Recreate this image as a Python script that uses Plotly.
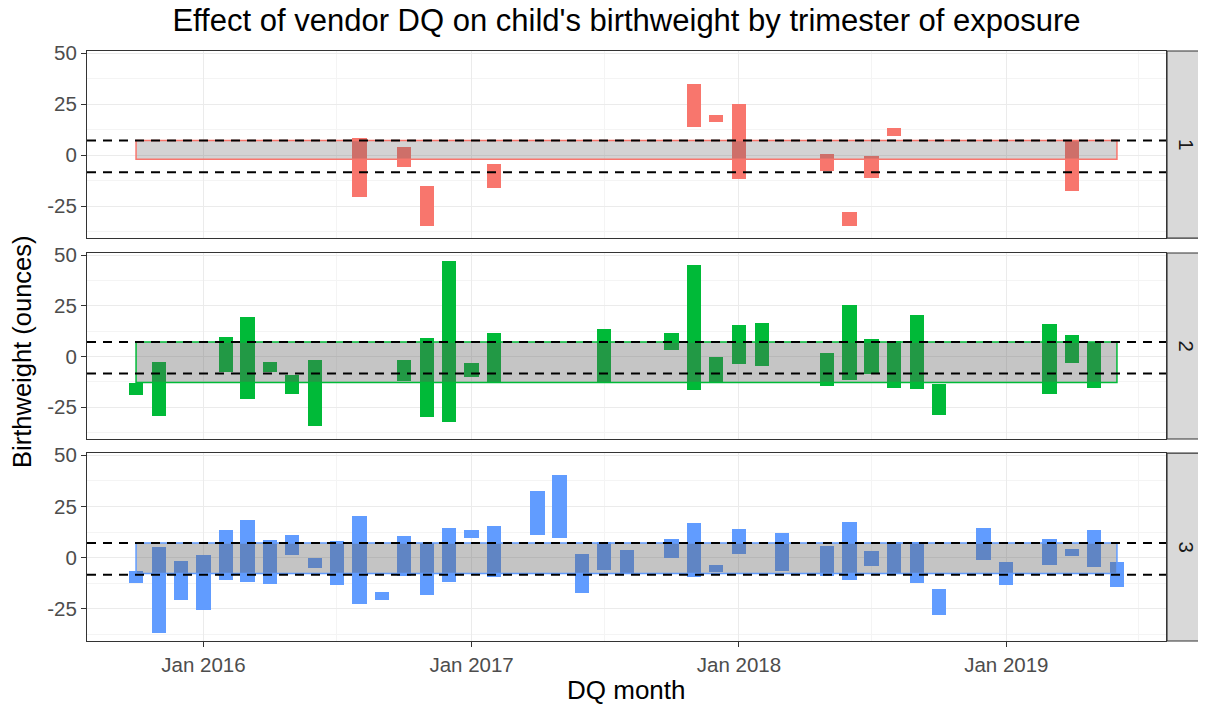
import pandas as pd
import plotly.graph_objects as go
from plotly.subplots import make_subplots

# ---------------- data ----------------
t1_month = ["2016-08", "2016-10", "2016-11", "2017-02", "2017-11", "2017-12",
            "2018-01", "2018-05", "2018-06", "2018-07", "2018-08", "2019-04"]
t1_hi = [8.2, 4.1, -15.2, -4.2, 35.1, 19.8, 25.0, 0.5, -28.1, -0.5, 13.2, 6.9]
t1_lo = [-20.4, -5.7, -34.6, -16.3, 13.6, 16.2, -11.8, -7.8, -34.6, -11.1, 9.3, -17.8]

t2_month = ["2015-10", "2015-11", "2016-02", "2016-03", "2016-04", "2016-05", "2016-06",
            "2016-10", "2016-11", "2016-12", "2017-01", "2017-02", "2017-07", "2017-10",
            "2017-11", "2017-12", "2018-01", "2018-02", "2018-05", "2018-06", "2018-07",
            "2018-08", "2018-09", "2018-10", "2019-03", "2019-04", "2019-05"]
t2_hi = [-13.1, -2.6, 9.5, 19.5, -2.6, -9.2, -1.6,
         -1.5, 9.0, 47.0, -3.0, 11.8, 13.6, 11.8,
         45.4, -0.2, 15.6, 16.6, 1.8, 25.6, 8.7,
         7.9, 20.5, -13.8, 15.9, 10.7, 7.0]
t2_lo = [-18.9, -29.2, -7.5, -21.1, -7.7, -18.7, -34.4,
         -12.3, -29.8, -32.1, -10.3, -12.8, -12.8, 3.4,
         -16.4, -12.8, -3.8, -4.8, -14.4, -11.8, -8.4,
         -15.6, -15.9, -28.7, -18.4, -3.0, -15.6]

t3_month = ["2015-10", "2015-11", "2015-12", "2016-01", "2016-02", "2016-03", "2016-04",
            "2016-05", "2016-06", "2016-07", "2016-08", "2016-09", "2016-10", "2016-11",
            "2016-12", "2017-01", "2017-02", "2017-04", "2017-05", "2017-06", "2017-07",
            "2017-08", "2017-10", "2017-11", "2017-12", "2018-01", "2018-03", "2018-05",
            "2018-06", "2018-07", "2018-08", "2018-09", "2018-10", "2018-12", "2019-01",
            "2019-03", "2019-04", "2019-05", "2019-06"]
t3_hi = [-6.7, 5.2, -1.6, 1.3, 13.6, 18.6, 8.7,
         11.3, -0.2, 8.0, 20.4, -16.7, 10.5, 7.2,
         14.5, 13.6, 15.4, 32.7, 40.2, 1.6, 7.8,
         3.6, 9.0, 16.7, -3.6, 13.9, 11.9, 5.6,
         17.3, 3.3, 7.4, 7.8, -15.4, 14.7, -2.1,
         9.2, 4.4, 13.7, -2.1]
t3_lo = [-12.6, -36.6, -20.8, -25.5, -10.8, -11.8, -12.9,
         1.1, -5.2, -13.2, -22.5, -20.9, -9.2, -18.3,
         -11.8, 9.8, -9.5, 11.1, 9.6, -17.2, -5.9,
         -7.7, -0.3, -9.3, -7.0, 1.8, -6.5, -8.8,
         -10.9, -4.1, -7.7, -12.6, -27.8, -1.1, -13.4,
         -3.8, 1.0, -4.4, -14.5]

band_start = "2015-10-01"
band_end = "2019-06-01"
band_lo = [-2.0, -12.8, -7.7]
band_hi = [7.2, 7.2, 7.2]
ref_lines = [7.2, -8.4]

strip_labels = ["1", "2", "3"]
colors = ["#F8766D", "#00BA38", "#619CFF"]
band_alpha = [0.275, 0.36, 0.37]

x_tickvals = ["2016-01-01", "2017-01-01", "2018-01-01", "2019-01-01"]
x_ticktext = ["Jan 2016", "Jan 2017", "Jan 2018", "Jan 2019"]
x_minorvals = ["2015-07-01", "2016-07-01", "2017-07-01", "2018-07-01", "2019-07-01"]
y_tickvals = [-25, 0, 25, 50]
y_ticktext = ["-25", "0", "25", "50"]
y_minorvals = [-37.5, -12.5, 12.5, 37.5]

title_text = "Effect of vendor DQ on child's birthweight by trimester of exposure"
x_title = "DQ month"
y_title = "Birthweight (ounces)"

# ---------------- figure ----------------
FONT = "Liberation Sans, Arial, sans-serif"
series = [(t1_month, t1_hi, t1_lo), (t2_month, t2_hi, t2_lo), (t3_month, t3_hi, t3_lo)]

# page body has an 8px default margin: size the figure so it ends at the window edge
W, H = 1198, 698

fig = make_subplots(rows=3, cols=1, shared_xaxes=True, vertical_spacing=0.02)

bar_w = 19.5 * 86400000
for i, (months, hi, lo) in enumerate(series):
    xs = pd.to_datetime([m + "-01" for m in months])
    fig.add_trace(go.Bar(
        x=xs, y=[h - l for h, l in zip(hi, lo)], base=lo, width=bar_w,
        marker=dict(color=colors[i], line=dict(width=0)),
        showlegend=False, hoverinfo="skip"), row=i + 1, col=1)

# x range with 5% expansion
s = pd.Timestamp(band_start)
e = pd.Timestamp(band_end)
span = e - s
xr = [(s - span * 0.05).strftime("%Y-%m-%d %H:%M"), (e + span * 0.05).strftime("%Y-%m-%d %H:%M")]

domains = [[0.683, 1.0], [0.3424, 0.6576], [0.0, 0.3186]]
yr = [-40.7, 51.1]

shapes = []
annotations = []
for i in range(3):
    ya = "y" if i == 0 else f"y{i+1}"
    xa = "x" if i == 0 else f"x{i+1}"
    # band
    shapes.append(dict(type="rect", xref=xa, yref=ya, x0=band_start, x1=band_end,
                       y0=band_lo[i], y1=band_hi[i],
                       fillcolor=f"rgba(95,95,95,{band_alpha[i]})",
                       line=dict(color=colors[i], width=1.5), layer="above"))
    # dashed reference lines
    for v in ref_lines:
        shapes.append(dict(type="line", xref=f"{xa} domain", yref=ya, x0=0, x1=1,
                           y0=v, y1=v, line=dict(color="black", width=2, dash="9px,7px"),
                           layer="above"))
    # strip
    shapes.append(dict(type="rect", xref="paper", yref=f"{ya} domain",
                       x0=1.0009, x1=1.037, y0=0, y1=1,
                       fillcolor="#D9D9D9", line=dict(color="#333333", width=1.2),
                       layer="above"))
    annotations.append(dict(text=strip_labels[i], xref="paper", yref=f"{ya} domain",
                            x=1.019, y=0.5, showarrow=False, textangle=90,
                            font=dict(family=FONT, size=20.5, color="#1A1A1A"),
                            xanchor="center", yanchor="middle"))

annotations.append(dict(text=x_title, xref="paper", yref="paper", x=0.5, y=-0.083,
                        showarrow=False, font=dict(family=FONT, size=26, color="black"),
                        xanchor="center", yanchor="middle"))
annotations.append(dict(text=y_title, xref="paper", yref="paper", x=-0.0602, y=0.49,
                        showarrow=False, textangle=-90,
                        font=dict(family=FONT, size=25.5, color="black"),
                        xanchor="center", yanchor="middle"))

fig.update_layout(
    width=W, height=H,
    margin=dict(l=79, r=40, t=43, b=65, autoexpand=False),
    paper_bgcolor="white", plot_bgcolor="white",
    barmode="overlay", bargap=0,
    font=dict(family=FONT, color="black"),
    title=dict(text=title_text, x=0.5, xref="paper", xanchor="center",
               y=1 - 12 / H, yref="container", yanchor="middle",
               font=dict(family=FONT, size=31, color="black")),
    shapes=shapes, annotations=annotations,
)

for i in range(3):
    row = i + 1
    fig.update_yaxes(
        domain=domains[i], range=yr, tickmode="array", tickvals=y_tickvals, ticktext=y_ticktext,
        showgrid=True, gridcolor="#EBEBEB", gridwidth=1.2, zeroline=False,
        minor=dict(tickvals=y_minorvals, showgrid=True, gridcolor="#F4F4F4", gridwidth=0.8, ticks=""),
        ticks="outside", ticklen=5, tickwidth=1.4, tickcolor="#333333",
        tickfont=dict(family=FONT, size=20.5, color="#4D4D4D"),
        showline=True, mirror=True, linecolor="#333333", linewidth=1.2,
        row=row, col=1)
    fig.update_xaxes(
        type="date", range=xr, tickmode="array", tickvals=x_tickvals, ticktext=x_ticktext,
        showgrid=True, gridcolor="#EBEBEB", gridwidth=1.2, zeroline=False,
        minor=dict(tickvals=x_minorvals, showgrid=True, gridcolor="#F4F4F4", gridwidth=0.8, ticks=""),
        ticks="outside" if row == 3 else "", ticklen=5, tickwidth=1.4, tickcolor="#333333",
        showticklabels=(row == 3),
        tickfont=dict(family=FONT, size=20.5, color="#4D4D4D"),
        showline=True, mirror=True, linecolor="#333333", linewidth=1.2,
        row=row, col=1)

fig.write_html("out.html")
